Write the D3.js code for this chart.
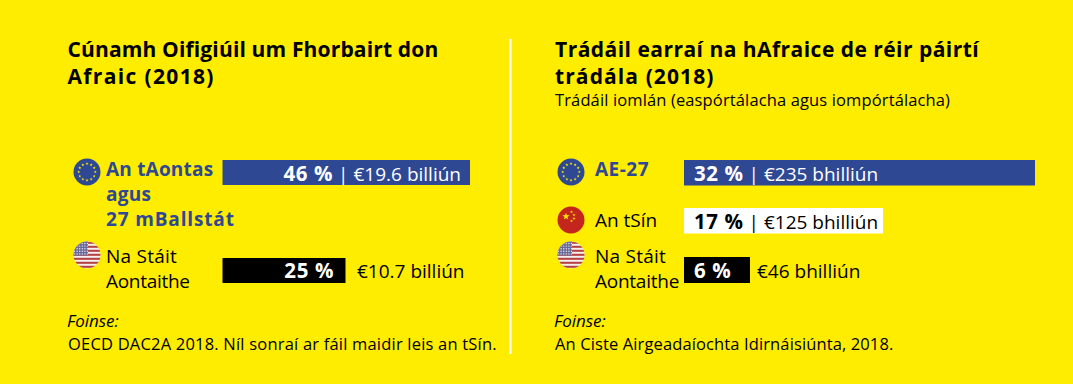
<!DOCTYPE html>
<html>
<head>
<meta charset="utf-8">
<script src="https://cdn.jsdelivr.net/npm/d3@7"></script>
<style>
html, body { margin: 0; padding: 0; background: #ffed00; }
svg { display: block; }
text { font-family: "Open Sans", "Noto Sans", sans-serif; }
</style>
</head>
<body>
<div id="chart"></div>
<script>
var w = 1073;
var h = 384;

// left panel
var leftTitle = ["Cúnamh Oifigiúil um Fhorbairt don", "Afraic (2018)"];
var leftNames = [["An tAontas", "agus", "27 mBallstát"], ["Na Stáit", "Aontaithe"]];
var leftFlags = ["eu", "us"];
var leftShares = [46, 25];
var leftAmounts = ["€19.6 billiún", "€10.7 billiún"];
var leftSource = "OECD DAC2A 2018. Níl sonraí ar fáil maidir leis an tSín.";

// right panel
var rightTitle = ["Trádáil earraí na hAfraice de réir páirtí", "trádála (2018)"];
var rightSubtitle = "Trádáil iomlán (easpórtálacha agus iompórtálacha)";
var rightNames = [["AE-27"], ["An tSín"], ["Na Stáit", "Aontaithe"]];
var rightFlags = ["eu", "cn", "us"];
var rightShares = [32, 17, 6];
var rightAmounts = ["€235 bhilliún", "€125 bhilliún", "€46 bhilliún"];
var rightSource = "An Ciste Airgeadaíochta Idirnáisiúnta, 2018.";

var sourceLabel = "Foinse:";

var yellow = "#ffed00";
var blue = "#2e4893";
var red = "#c4261d";

var svg = d3.select("#chart")
    .append("svg")
    .attr("width", w)
    .attr("height", h);

svg.append("rect")
    .attr("width", w)
    .attr("height", h)
    .attr("fill", yellow);

// divider
svg.append("line")
    .attr("x1", 510.5)
    .attr("x2", 510.5)
    .attr("y1", 39)
    .attr("y2", 354)
    .attr("stroke", "#fff")
    .attr("stroke-width", 2);

var defs = svg.append("defs");
defs.append("clipPath")
    .attr("id", "flagClip")
    .append("circle")
    .attr("r", 13.5);

function drawFlag(x, y, kind) {
    var g = svg.append("g").attr("transform", "translate(" + x + "," + y + ")");
    var star = d3.symbol().type(d3.symbolStar);
    if (kind == "eu") {
        g.append("circle").attr("r", 13.5).attr("fill", blue);
        d3.range(12).forEach(function(i) {
            var a = i * Math.PI / 6;
            g.append("path")
                .attr("d", star.size(3)())
                .attr("transform", "translate(" + (8.3 * Math.sin(a)) + "," + (-8.3 * Math.cos(a)) + ")")
                .attr("fill", yellow);
        });
    } else if (kind == "cn") {
        g.append("circle").attr("r", 13.5).attr("fill", red);
        g.append("path")
            .attr("d", star.size(16)())
            .attr("transform", "translate(-5,-3.5)")
            .attr("fill", yellow);
        [[0.5, -8], [3, -5], [3, -1.5], [0.5, 1]].forEach(function(p) {
            g.append("path")
                .attr("d", star.size(3)())
                .attr("transform", "translate(" + p[0] + "," + p[1] + ")")
                .attr("fill", yellow);
        });
    } else {
        var f = g.append("g").attr("clip-path", "url(#flagClip)");
        f.append("rect").attr("x", -14).attr("y", -14).attr("width", 28).attr("height", 28).attr("fill", "#f4eeee");
        d3.range(7).forEach(function(i) {
            f.append("rect")
                .attr("x", -14)
                .attr("y", -13.2 + i * 4)
                .attr("width", 28)
                .attr("height", 2)
                .attr("fill", "#b5403f");
        });
        f.append("rect").attr("x", -14).attr("y", -14).attr("width", 15).attr("height", 14.5).attr("fill", "#6a6a98");
        d3.range(5).forEach(function(r) {
            d3.range(6).forEach(function(c) {
                f.append("circle")
                    .attr("cx", -12.5 + c * 2.6)
                    .attr("cy", -11.5 + r * 2.6)
                    .attr("r", 0.7)
                    .attr("fill", "#e8e8f2");
            });
        });
    }
}

// spacing is per line, the original typeface has wider digits than Open Sans
function multiLine(x, y, lines, lead, size, weight, color, spacing) {
    lines.forEach(function(t, i) {
        svg.append("text")
            .attr("x", x)
            .attr("y", y + i * lead)
            .attr("font-size", size)
            .attr("font-weight", weight)
            .attr("fill", color)
            .attr("letter-spacing", spacing[i])
            .text(t);
    });
}

function barLabel(share, amount) {
    return '<tspan font-weight="700" font-size="20.5" letter-spacing="0.6">' + share + ' %</tspan>'
        + (amount ? ' | ' + amount : '');
}

// piecewise scales: the source bars are not strictly proportional to their labels
var xLeft = d3.scaleLinear().domain([0, 25, 46]).range([222.5, 345.5, 470]);
var xRight = d3.scaleLinear().domain([0, 6, 17, 32]).range([684, 750, 883, 1035]);

// titles
multiLine(67.5, 57, leftTitle, 27, 21, 700, "#000", [0.15, 1.35]);
multiLine(555, 57, rightTitle, 27, 21, 700, "#000", [0.47, 1.1]);
svg.append("text").attr("x", 555).attr("y", 106).attr("font-size", 16.5)
    .attr("letter-spacing", 0.13).attr("fill", "#000").text(rightSubtitle);

// left rows
var leftRows = [
    { top: 160, flagY: 172, nameY: 176, color: blue, bold: true, spacing: [0.2, 0.3, 0.85] },
    { top: 258, flagY: 255, nameY: 263, color: "#000", bold: false, spacing: [0.25, -0.3] }
];
leftShares.forEach(function(d, i) {
    var r = leftRows[i];
    drawFlag(87, r.flagY, leftFlags[i]);
    multiLine(106, r.nameY, leftNames[i], 25, 19, r.bold ? 700 : 400, r.color, r.spacing);
    svg.append("rect")
        .attr("x", xLeft(0)).attr("y", r.top)
        .attr("width", xLeft(d) - xLeft(0)).attr("height", 25)
        .attr("fill", i == 0 ? blue : "#000");
});
svg.append("text").attr("x", 461).attr("y", 181).attr("text-anchor", "end")
    .attr("font-size", 19).attr("fill", "#fff")
    .html(barLabel(leftShares[0], leftAmounts[0]));
svg.append("text").attr("x", 334).attr("y", 278).attr("text-anchor", "end")
    .attr("font-size", 19).attr("fill", "#fff").html(barLabel(leftShares[1]));
svg.append("text").attr("x", 357).attr("y", 278)
    .attr("font-size", 19).attr("fill", "#000").text(leftAmounts[1]);

// right rows
var rightRows = [
    { top: 160, flagY: 172, nameY: 176, color: blue, bold: true, fill: blue, txt: "#fff", spacing: [0.5] },
    { top: 208, flagY: 220, nameY: 227, color: "#000", bold: false, fill: "#fff", txt: "#000", spacing: [0] },
    { top: 257, flagY: 255, nameY: 263, color: "#000", bold: false, fill: "#000", txt: "#fff", spacing: [0.25, -0.25] }
];
rightShares.forEach(function(d, i) {
    var r = rightRows[i];
    drawFlag(571, r.flagY, rightFlags[i]);
    multiLine(595, r.nameY, rightNames[i], 25, 19, r.bold ? 700 : 400, r.color, r.spacing);
    svg.append("rect")
        .attr("x", xRight(0)).attr("y", r.top)
        .attr("width", xRight(d) - xRight(0)).attr("height", i == 2 ? 26 : 25.5)
        .attr("fill", r.fill);
    svg.append("text").attr("x", 694).attr("y", r.top + 21)
        .attr("font-size", 19).attr("fill", r.txt)
        .html(barLabel(d, i < 2 ? rightAmounts[i] : null));
});
svg.append("text").attr("x", 757).attr("y", 278)
    .attr("font-size", 19).attr("fill", "#000").text(rightAmounts[2]);

// sources
[[67, leftSource, 68, 0.2], [554, rightSource, 555, 0.12]].forEach(function(s) {
    svg.append("text").attr("x", s[0]).attr("y", 327).attr("font-size", 17)
        .attr("font-style", "italic").attr("fill", "#000").text(sourceLabel);
    svg.append("text").attr("x", s[2]).attr("y", 350).attr("font-size", 16.5)
        .attr("letter-spacing", s[3]).attr("fill", "#000").text(s[1]);
});
</script>
</body>
</html>
